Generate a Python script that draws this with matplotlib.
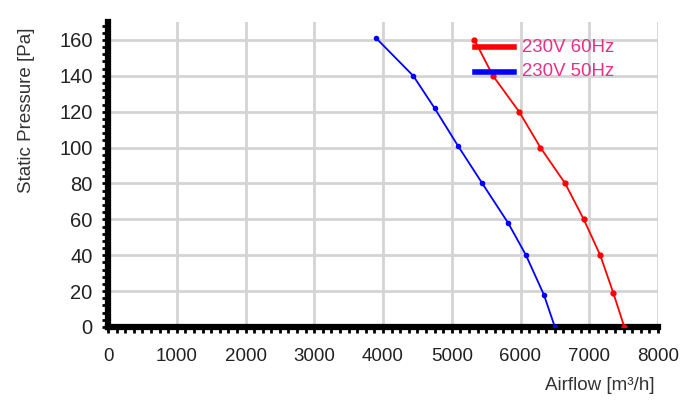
import numpy as np
import matplotlib.pyplot as plt
from matplotlib.ticker import MultipleLocator

plt.rcParams['font.family'] = ['Liberation Sans', 'DejaVu Sans']

# 230V 60Hz curve
flow_60 = [5330, 5600, 5980, 6290, 6650, 6920, 7160, 7350, 7510]
pres_60 = [160, 140, 120, 100, 80, 60, 40, 19, 0]
# 230V 50Hz curve
flow_50 = [3900, 4440, 4750, 5090, 5445, 5820, 6080, 6340, 6500]
pres_50 = [161, 140, 122, 101, 80, 58, 40, 18, 0]

labels = ['230V 60Hz', '230V 50Hz']

fig = plt.figure(figsize=(7, 4.08), dpi=100)
ax = fig.add_axes([108/700, 1-327/408, 550/700, 305/408])

ax.plot(flow_60, pres_60, color='#ff0000', lw=1.3, marker='o', ms=3.5, zorder=3)
ax.plot(flow_50, pres_50, color='#0000ff', lw=1.3, marker='o', ms=3, zorder=3)

ax.set_xlim(0, 8000)
ax.set_ylim(0, 170)
ax.xaxis.set_major_locator(MultipleLocator(1000))
ax.xaxis.set_minor_locator(MultipleLocator(125))
ax.set_yticks(np.arange(0, 161, 20))
ax.yaxis.set_minor_locator(MultipleLocator(4))
ax.grid(True, which='major', color='#d4d4d4', lw=2)
ax.set_axisbelow(True)

for s in ['top', 'right']:
    ax.spines[s].set_visible(False)
for s in ['left', 'bottom']:
    ax.spines[s].set_linewidth(4.5)
    ax.spines[s].set_color('black')

ax.tick_params(which='both', direction='out', length=4, width=2, color='black')
ax.tick_params(axis='x', which='major', pad=11, labelsize=13.5, labelcolor='#222222')
ax.tick_params(axis='y', which='major', pad=7, labelsize=14.5, labelcolor='#222222')

# legend drawn by hand, no frame
leg_x0, leg_x1 = 475, 514
for i, (lab, col) in enumerate(zip(labels, ['#ff0000', '#0000ff'])):
    yy = 47 + 25 * i
    fig.add_artist(plt.Line2D([leg_x0/700, leg_x1/700], [1-yy/408, 1-yy/408],
                              color=col, lw=4, transform=fig.transFigure))
    fig.text(522/700, 1-yy/408, lab, color='#e8308a', fontsize=13.4, va='center', ha='left')

fig.text(27/700, 1-110/408, 'Static Pressure [Pa]', rotation=90, fontsize=13.5,
         color='#333333', ha='center', va='center')
fig.text(655/700, 1-385/408, 'Airflow [m\u00b3/h]', fontsize=13.5,
         color='#333333', ha='right', va='center')

fig.savefig('out.png', dpi=100)
